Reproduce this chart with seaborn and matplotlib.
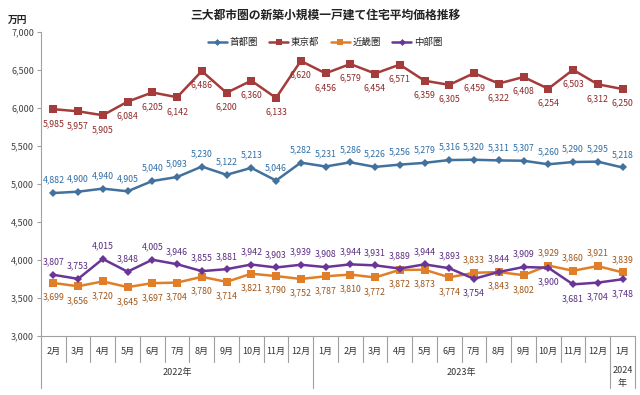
import numpy as np
import pandas as pd
import seaborn as sns
import matplotlib.pyplot as plt
from matplotlib.transforms import blended_transform_factory

months = ['2月', '3月', '4月', '5月', '6月', '7月', '8月', '9月', '10月', '11月', '12月',
          '1月', '2月', '3月', '4月', '5月', '6月', '7月', '8月', '9月', '10月', '11月', '12月',
          '1月']
years = ['2022年', '2023年', '2024\n年']
year_counts = [11, 12, 1]

shutoken = [4882, 4900, 4940, 4905, 5040, 5093, 5230, 5122, 5213, 5046, 5282, 5231,
            5286, 5226, 5256, 5279, 5316, 5320, 5311, 5307, 5260, 5290, 5295, 5218]
tokyo = [5985, 5957, 5905, 6084, 6205, 6142, 6486, 6200, 6360, 6133, 6620, 6456,
         6579, 6454, 6571, 6359, 6305, 6459, 6322, 6408, 6254, 6503, 6312, 6250]
kinki = [3699, 3656, 3720, 3645, 3697, 3704, 3780, 3714, 3821, 3790, 3752, 3787,
         3810, 3772, 3872, 3873, 3774, 3833, 3843, 3802, 3929, 3860, 3921, 3839]
chubu = [3807, 3753, 4015, 3848, 4005, 3946, 3855, 3881, 3942, 3903, 3939, 3908,
         3944, 3931, 3889, 3944, 3893, 3754, 3844, 3909, 3900, 3681, 3704, 3748]

series = {'首都圏': shutoken, '東京都': tokyo, '近畿圏': kinki, '中部圏': chubu}
colors = {'首都圏': '#41719c', '東京都': '#a33c3a', '近畿圏': '#e07f27', '中部圏': '#6a3596'}
label_colors = {'首都圏': '#2e6ea6', '東京都': '#8e2a28', '近畿圏': '#a0561a', '中部圏': '#5a2d82'}
markers = {'首都圏': 'D', '東京都': 's', '近畿圏': 's', '中部圏': 'D'}
msize = {'首都圏': 4, '東京都': 5.5, '近畿圏': 5.5, '中部圏': 4}

# label above (1) or below (-1) the point
n = len(months)
place = {
    '首都圏': [1] * n,
    '東京都': [-1] * n,
    '近畿圏': [-1] * 17 + [1, -1, -1] + [1] * 4,
    '中部圏': [1] * 17 + [-1, 1, 1] + [-1] * 4,
}

rows = []
for name, vals in series.items():
    for i, v in enumerate(vals):
        rows.append({'x': i, 'value': v, 'series': name})
df = pd.DataFrame(rows)

sns.set_style('white')
plt.rcParams['font.family'] = ['Noto Sans CJK JP', 'DejaVu Sans']

fig = plt.figure(figsize=(6.4, 3.95), dpi=100)
ax = fig.add_axes([0.064, 0.149, 0.928, 0.77])

sns.lineplot(data=df, x='x', y='value', hue='series', style='series',
             palette=colors, markers=markers, dashes=False, linewidth=1.8,
             markeredgewidth=0, ax=ax, legend=False)
for line, name in zip(ax.get_lines(), series.keys()):
    line.set_markersize(msize[name])

for name, vals in series.items():
    for i, v in enumerate(vals):
        up = place[name][i] > 0
        ax.annotate(f'{v:,}', (i, v), xytext=(0, 6 if up else -7),
                    textcoords='offset points', ha='center',
                    va='bottom' if up else 'top', fontsize=6.3,
                    color=label_colors[name])

ax.set_xlim(-0.5, n - 0.5)
ax.set_ylim(3000, 7000)
ax.set_yticks(np.arange(3000, 7001, 500))
ax.set_yticklabels([f'{t:,}' for t in range(3000, 7001, 500)], fontsize=6.5, color='#404040')
ax.tick_params(axis='y', length=3, width=0.8, color='#a0a0a0', pad=2, left=True)
ax.set_xticks([])
ax.set_xlabel('')
ax.set_ylabel('')
for s in ['top', 'right']:
    ax.spines[s].set_visible(False)
for s in ['left', 'bottom']:
    ax.spines[s].set_color('#a0a0a0')
    ax.spines[s].set_linewidth(0.8)

# category axis: months and years
trans = blended_transform_factory(ax.transData, ax.transAxes)
for i, m in enumerate(months):
    ax.text(i, -0.05, m, transform=trans, ha='center', va='center', fontsize=6.5, color='#333333')
bounds = np.cumsum([0] + year_counts) - 0.5
for b in bounds:
    ax.plot([b, b], [0, -0.17], transform=trans, color='#a0a0a0', lw=0.8, clip_on=False)
for i in range(n):
    b = i - 0.5
    if b not in bounds:
        ax.plot([b, b], [0, -0.085], transform=trans, color='#a0a0a0', lw=0.8, clip_on=False)
for y, c, s in zip(years, year_counts, bounds[:-1]):
    ax.text(s + c / 2, -0.12 if '\n' not in y else -0.135, y, transform=trans,
            ha='center', va='center', fontsize=6.5, color='#333333', linespacing=1.5)

fig.text(0.508, 0.962, '三大都市圏の新築小規模一戸建て住宅平均価格推移', ha='center',
         va='center', fontsize=8.5, fontweight='bold', color='#222222')
fig.text(0.012, 0.95, '万円', ha='left', va='center', fontsize=7, fontweight='bold', color='#222222')

handles = [plt.Line2D([], [], color=colors[k], marker=markers[k], markersize=msize[k] - 0.5,
                      markeredgewidth=0, lw=1.8) for k in series]
fig.legend(handles, list(series.keys()), loc='center', bbox_to_anchor=(0.508, 0.893),
           ncol=4, frameon=False, fontsize=6.8, handlelength=2, columnspacing=1.2,
           handletextpad=0.3)

fig.savefig('out.png', dpi=100)
